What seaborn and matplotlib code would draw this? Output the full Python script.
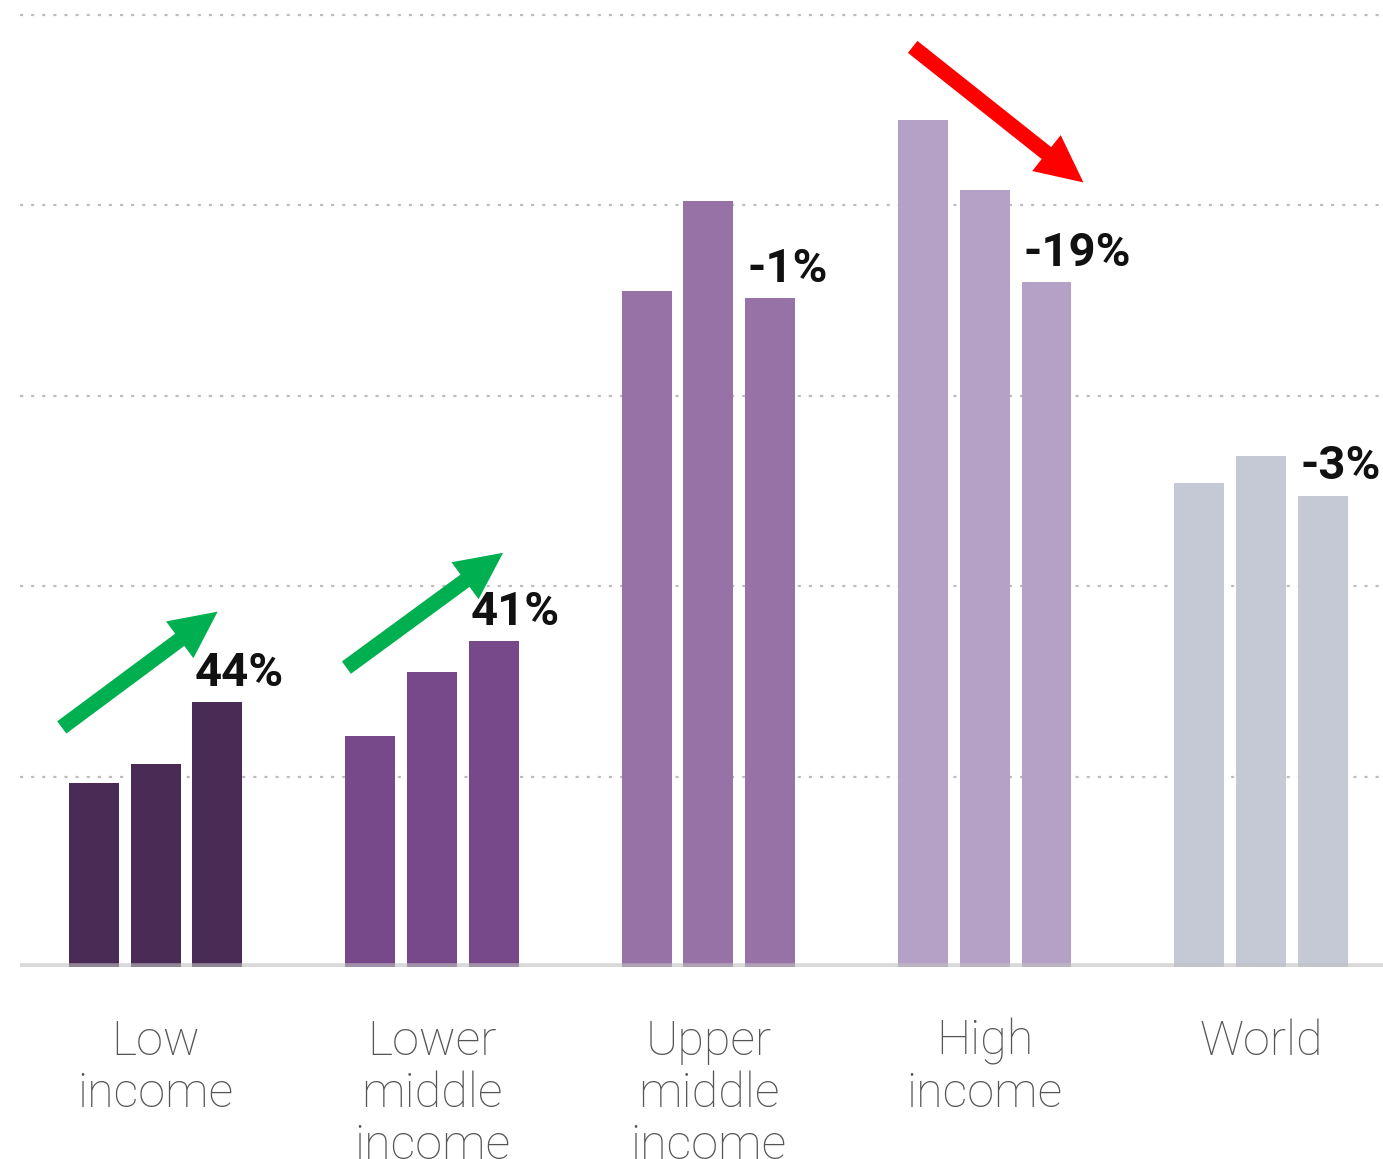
import matplotlib
matplotlib.use("Agg")
import matplotlib.pyplot as plt
import seaborn as sns
import pandas as pd

# Income groups and their three period values (in gridline units)
groups = ["Low\nincome", "Lower\nmiddle\nincome", "Upper\nmiddle\nincome", "High\nincome", "World"]
period_1 = [0.964, 1.211, 3.548, 4.450, 2.543]
period_2 = [1.064, 1.551, 4.020, 4.078, 2.683]
period_3 = [1.389, 1.710, 3.513, 3.595, 2.475]
periods = ["P1", "P2", "P3"]
group_colors = ["#4A2B55", "#77488A", "#9672A6", "#B6A1C6", "#C5C9D5"]

rows = []
for g, a, b, c in zip(groups, period_1, period_2, period_3):
    for p, v in zip(periods, (a, b, c)):
        rows.append({"group": g, "period": p, "value": v})
df = pd.DataFrame(rows)

sns.set_theme(style="white")
plt.rcParams["font.family"] = ["Roboto", "DejaVu Sans"]

fig = plt.figure(figsize=(13.83, 11.59), dpi=100)
ax = fig.add_axes([0.0145, 0.1657, 0.9855, 0.8231])

sns.barplot(data=df, x="group", y="value", hue="period", order=groups,
            hue_order=periods, width=0.67, gap=0.19, palette=["#888"] * 3,
            legend=False, saturation=1, ax=ax, zorder=2)

# colour each bar by its income group
for patch in ax.patches:
    cx = patch.get_x() + patch.get_width() / 2
    idx = int(round(cx))
    patch.set_facecolor(group_colors[idx])
    patch.set_edgecolor("none")

ax.set_xlim(-0.491, 4.441)
ax.set_ylim(0, 5.01)
ax.set_yticks([1, 2, 3, 4, 5])
ax.set_yticklabels([])
ax.tick_params(axis="y", length=0)
ax.yaxis.grid(True, color="#bdbdbd", linewidth=1.6, linestyle=(0, (1.4, 3.6)))
ax.xaxis.grid(False)
ax.set_axisbelow(True)
for s in ax.spines.values():
    s.set_visible(False)
ax.axhline(0, color="#c0c0c0", alpha=0.6, linewidth=5.5, zorder=3)

ax.set_xlabel("")
ax.set_ylabel("")
ax.tick_params(axis="x", length=0, pad=37)
for lbl in ax.get_xticklabels():
    lbl.set_fontsize(35)
    lbl.set_fontweight("light")
    lbl.set_color("#555555")
    lbl.set_linespacing(1.15)
    lbl.set_verticalalignment("top")

# percent change from first to last period, written above the last bar
slot = 0.67 / 3
bar_w = slot * (1 - 0.19)
for i, (a, c) in enumerate(zip(period_1, period_3)):
    change = round((c / a - 1) * 100)
    ax.text(i + slot - bar_w / 2 + 0.008, c + 0.085, f"{change}%",
            ha="left", va="baseline", fontsize=34, fontweight="bold",
            color="#111111", zorder=4)

# trend arrows
arrows = [
    ((-0.34, 1.258), (0.224, 1.866), "#00B050"),
    ((0.690, 1.572), (1.257, 2.175), "#00B050"),
    ((2.739, 4.832), (3.357, 4.120), "#FF0000"),
]
for tail, tip, col in arrows:
    ax.annotate("", xy=tip, xytext=tail, xycoords="data", textcoords="data",
                arrowprops=dict(arrowstyle="simple,head_width=33,head_length=34,tail_width=11",
                                mutation_scale=1, color=col, shrinkA=0, shrinkB=0,
                                linewidth=0),
                zorder=5, annotation_clip=False)

fig.savefig("out.png", dpi=100)
